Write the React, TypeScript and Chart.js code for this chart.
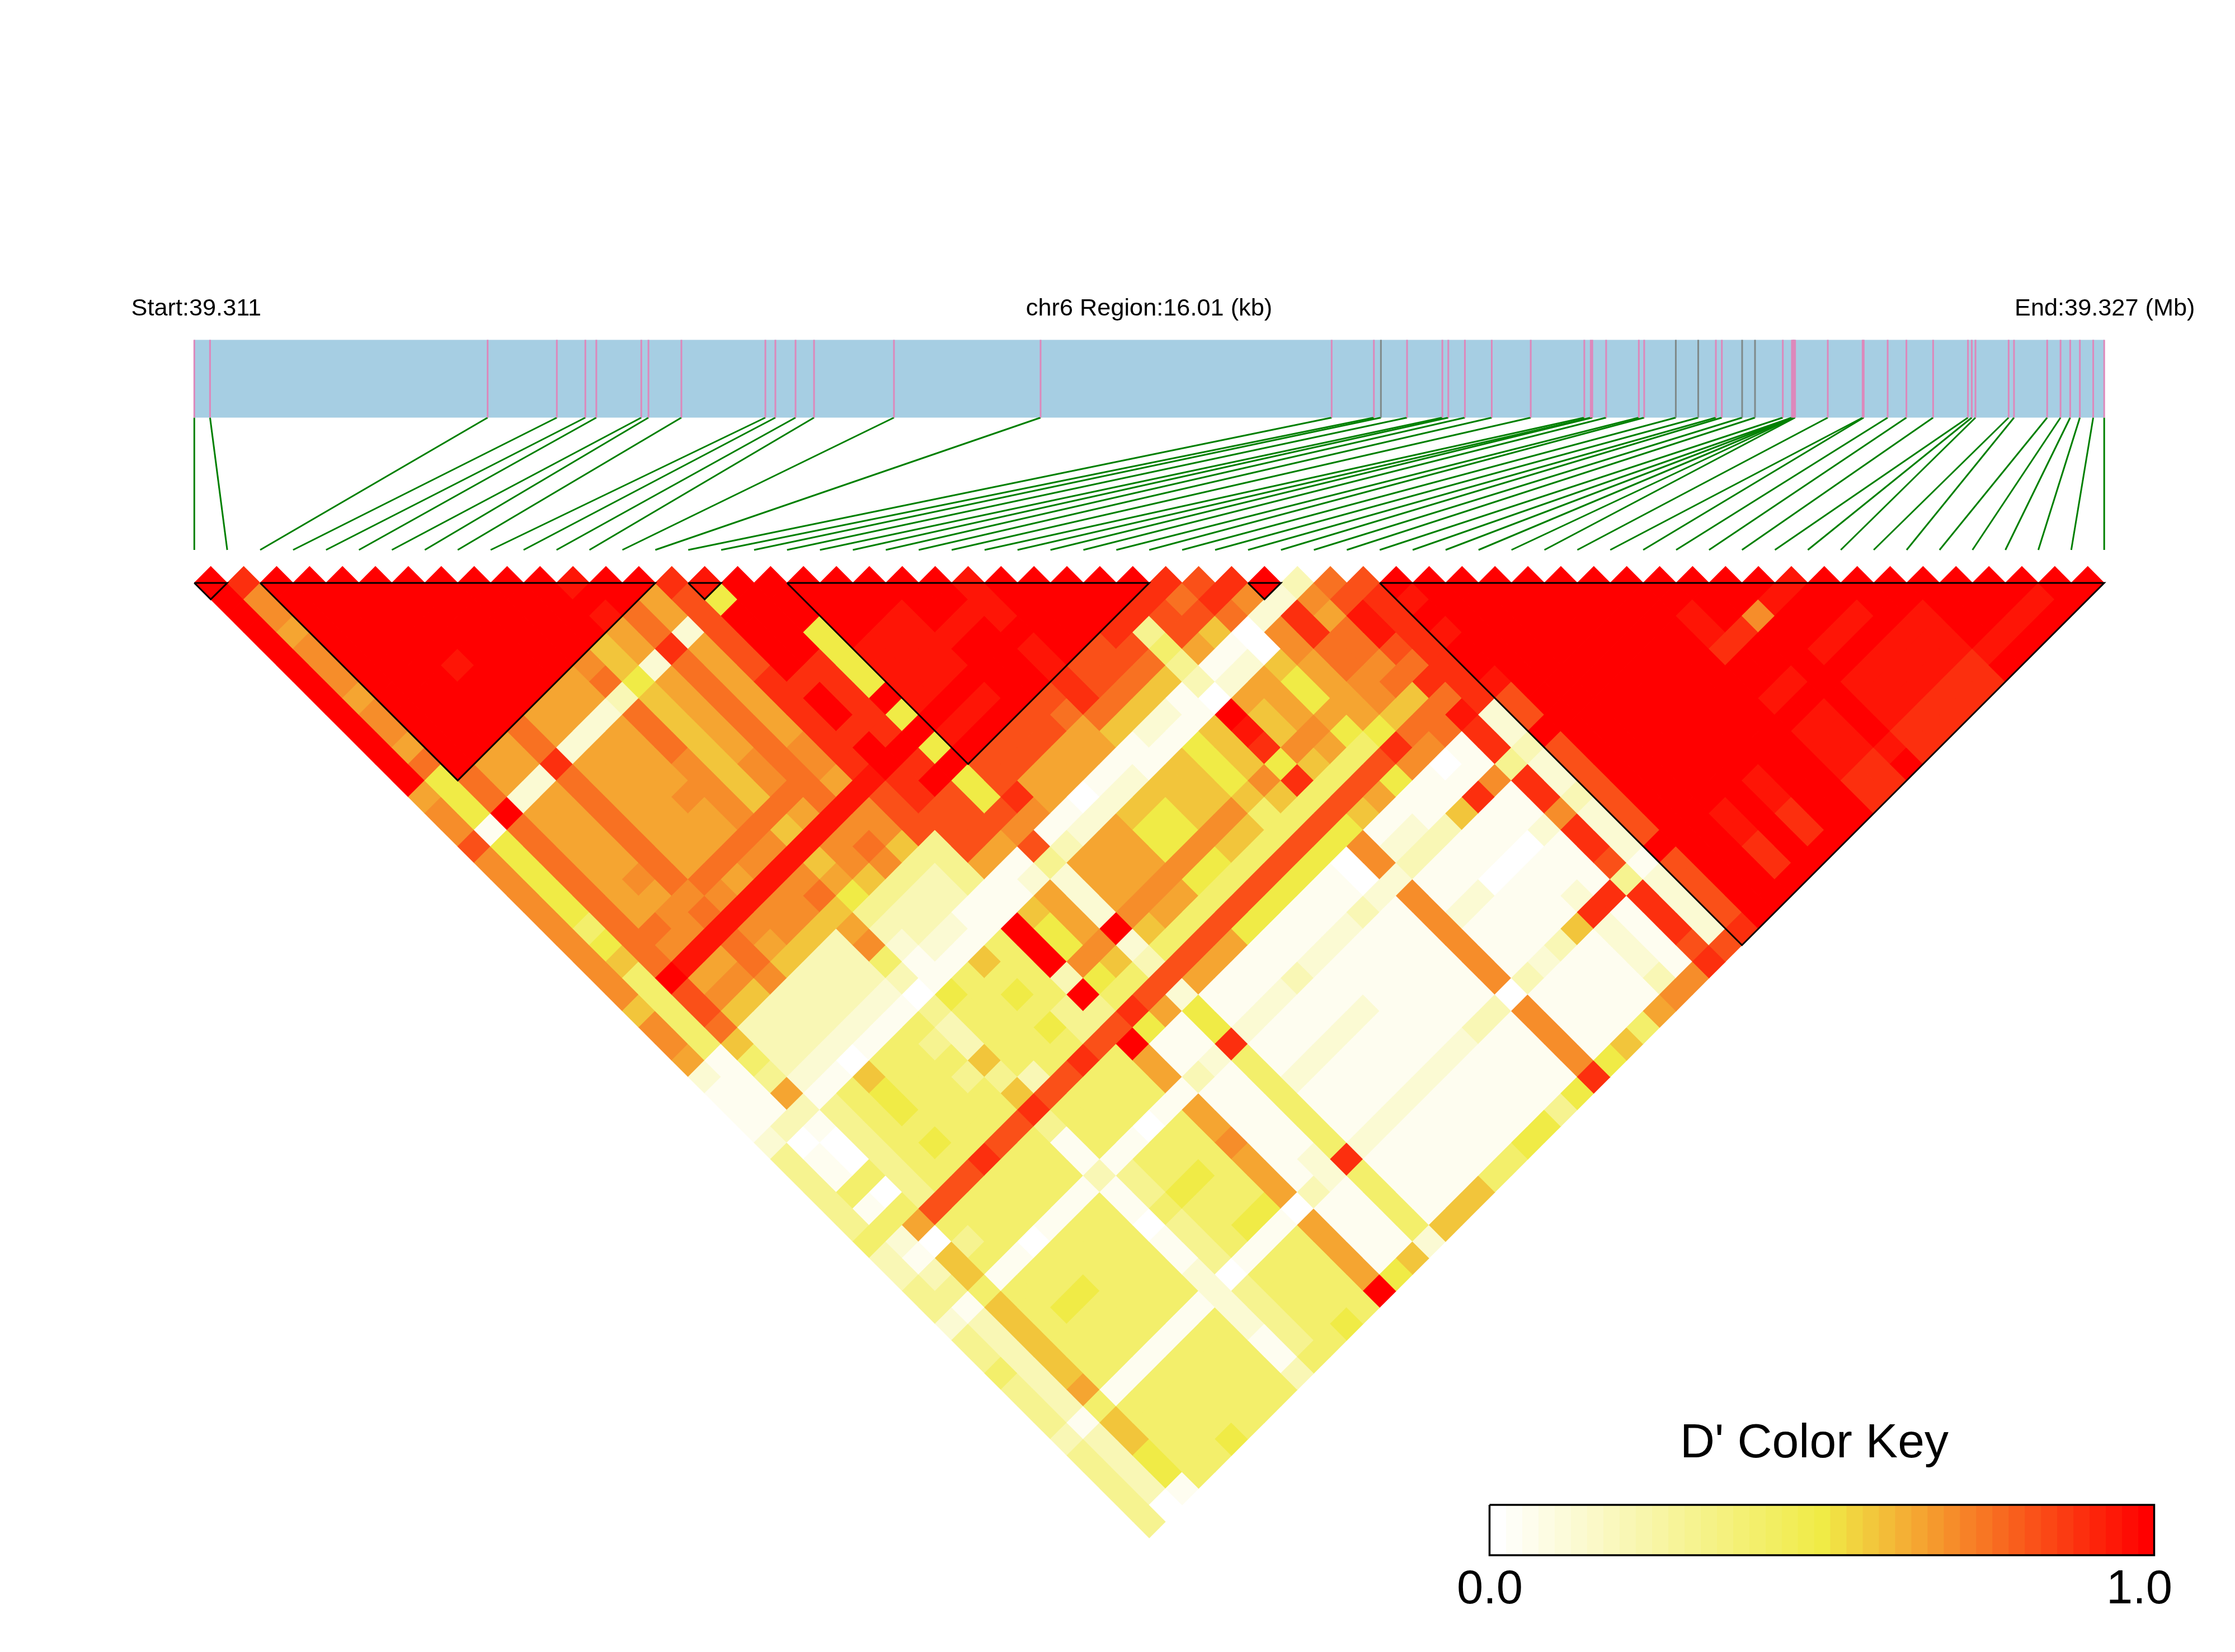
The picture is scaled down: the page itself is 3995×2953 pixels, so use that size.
import React, { useEffect, useRef } from "react";
import { Chart, registerables } from "chart.js";

Chart.register(...registerables);

// SNP positions along the region, in kb from the start
const snpPositionsKb = [
  0, 0.132, 2.459, 3.039, 3.278, 3.37, 3.747, 3.807, 4.083, 4.787, 4.871, 5.04, 5.195, 5.865, 7.094,
  9.534, 9.888, 9.947, 10.166, 10.462, 10.512, 10.651, 10.876, 11.203, 11.652, 11.706, 11.719, 11.835,
  12.109, 12.154, 12.419, 12.607, 12.755, 12.805, 12.975, 13.083, 13.316, 13.392, 13.401, 13.406, 13.41,
  13.419, 13.693, 13.985, 13.994, 14.195, 14.352, 14.576, 14.868, 14.9, 14.931, 15.209, 15.254, 15.532,
  15.644, 15.725, 15.806, 15.918, 16.01,
];
const greyMarkers = [17, 30, 31, 34, 35];
const regionKb = 16.01;

// LD blocks: first and last SNP
const ldBlocks = [[0, 1], [2, 14], [15, 16], [18, 29], [32, 33], [36, 58]];

// D' code of each character used in the rows below
const levelCodes = "0123456789abcde";
const levelValues = [0, 0.04, 0.12, 0.2, 0.3, 0.4, 0.5, 0.58, 0.65, 0.7, 0.76, 0.83, 0.9, 0.955, 1];

// row i holds the D' codes of the pairs (i, j) for j = i + 1 ... 58
const dPrimeRows = [
  "eeeeeeeee eeee899b99 9999999799 8211124444 4533442445 444344444",
  "c9989998 998a666166 6665675555 5111130115 1521341333 333133330",
  "eeeeeee eeeeeaaeaa aaaaaaaebb a754831005 0580775777 778577661",
  "eeeeee eeeee88288 88888a9d89 7333214444 44b5451555 555155555",
  "eeeee eeeee88288 8889899d89 7333215555 55b5551556 555155555",
  "eeee edeeeaacaa aaaaa9adaa 9333207665 65b5550556 555155556",
  "eee eeeee88288 88888a9d98 7333215555 55c5551555 555155555",
  "ee eeeee88288 88888a8d99 7333215555 55b5551555 555155555",
  "e eeeee88288 88988a9d99 7333215454 55b5551555 555155555",
  "eeeee9a3aa a9999a9d9a 7895304337 47c4113110 112222113",
  "eeee77677 77777a7d78 6432116555 53b5551445 444044445",
  "ded88288 88899a8d99 7433215555 55b5551556 555155555",
  "eeaacaa aaaaaaad9a 9433217565 65c5550556 556155556",
  "e88288 8888998d99 7433115555 44b5551555 556155555",
  "cbbbb bccccccdbb b44411eee3 e4be881889 88808888e",
  "d6ee eeceeceecc bbb8117669 65c6113111 111311116",
  "eee eecccccece bbb8128889 75b8112111 112211117",
  "ee e6666e6e6e 66b9b4222e 23b266c555 555c55552",
  "e eeeddddede bbc9138889 75b8112112 111211117",
  "eeeddddede bb88128889 85b8112112 111211117",
  "eeddddede bb88028889 85b8112112 111211117",
  "eeedeeee bb88127669 65b6113112 111211115",
  "eedeeee ba88127669 65b6112112 111211115",
  "dddedd cca7117779 75b6112111 111211116",
  "eeeee bba7217779 75b6112111 111211116",
  "eeee bba7216667 55b6113111 111311114",
  "eee cba7117779 75b6002111 111311116",
  "ee c45430edc6 c5b6992999 99909999c",
  "e cbb8128779 75b7123112 111311116",
  "cab7128889 85b8123112 111211117",
  "bca007668 65b6113110 111311115",
  "c9299888 86c9117110 111711118",
  "e2ccaa9 97a901c110 112c22239",
  "398aa9 a7aa119112 111c11119",
  "abddb acadcc4cc9 ccb4cccbc",
  "bccc cccc223223 22212222b",
  "ede deedbbebbb bbbebbbbc",
  "ee eeeeeeeeee eeeeeeeee",
  "e eeeeeeeeee eeeeeeeee",
  "eeeeeeeeee eeeeddcce",
  "eeeeeeeee eeeeeeeee",
  "eeeeeeee eeeeddcce",
  "eeeeeee eeeeeeeee",
  "eeeeee eeeeeeeee",
  "eeddc eededddcc",
  "eeec eededddcc",
  "ee9 eeeeeeede",
  "ed eededddcc",
  "d eededddcc",
  "eededddcc",
  "eeedddcc",
  "eedddcc",
  "eeeede",
  "eeede",
  "eede",
  "ede",
  "ee",
  "e",
];

// colour key
const keyBinCount = 41;
const keyLabels = ["0.0", "1.0"];
const keyTitle = "D' Color Key";
const headerLabels = ["Start:39.311", "chr6 Region:16.01 (kb)", "End:39.327 (Mb)"];

// layout of the picture, in canvas pixels
const W = 3995;
const H = 2953;
const X0 = 347.3;
const STEP = 58.86;
const Y0 = 1042;
const HALF = 29.43;
const xIdx = (px: number) => (px - X0) / STEP;
const yLvl = (px: number) => 1 + (px - Y0) / HALF;

function dPrimeColor(v: number) {
  const mix = (a: number[], b: number[], t: number) =>
    `rgb(${a.map((c, k) => Math.round(c + (b[k] - c) * t)).join(",")})`;
  const white = [255, 255, 255];
  const yellow = [240, 235, 70];
  const red = [255, 0, 0];
  return v <= 0.5 ? mix(white, yellow, v / 0.5) : mix(yellow, red, (v - 0.5) / 0.5);
}

const textPlugin = {
  id: "ldText",
  afterDatasetsDraw(chart: any) {
    const { ctx } = chart;
    ctx.save();
    ctx.fillStyle = "#000";
    ctx.textBaseline = "alphabetic";
    ctx.font = '43.3px "Liberation Sans"';
    ctx.textAlign = "left";
    ctx.fillText(headerLabels[0], 234.5, 564);
    ctx.textAlign = "center";
    ctx.fillText(headerLabels[1], 2054, 564);
    ctx.textAlign = "left";
    ctx.fillText(headerLabels[2], 3601, 564);
    ctx.textAlign = "center";
    ctx.font = '86px "Liberation Sans"';
    ctx.fillText(keyTitle, 3243, 2605);
    ctx.font = '85px "Liberation Sans"';
    ctx.fillText(keyLabels[0], 2663, 2866);
    ctx.fillText(keyLabels[1], 3824, 2866);
    ctx.restore();
  },
};

function line(points: { x: number; y: number }[], color: string, width: number, order: number) {
  return {
    type: "scatter",
    data: points,
    showLine: true,
    borderColor: color,
    backgroundColor: color,
    borderWidth: width,
    borderCapStyle: "butt",
    pointRadius: 0,
    tension: 0,
    order,
    clip: false,
  };
}

export default function App() {
  const ref = useRef<HTMLCanvasElement | null>(null);

  useEffect(() => {
    document.body.style.margin = "0";
    const canvas = ref.current;
    if (!canvas) return;

    const datasets: any[] = [];

    // gene bar
    const barTop = yLvl(607.5);
    const barBottom = yLvl(746.5);
    const lineBottom = yLvl(983);
    datasets.push(
      line(
        [
          { x: 0, y: (barTop + barBottom) / 2 },
          { x: 58, y: (barTop + barBottom) / 2 },
        ],
        "#A6CEE3",
        139,
        20,
      ),
    );

    // SNP ticks on the bar and connectors to the heatmap
    snpPositionsKb.forEach((kb, i) => {
      const x = (kb / regionKb) * 58;
      datasets.push(
        line(
          [
            { x, y: barTop },
            { x, y: barBottom },
          ],
          greyMarkers.includes(i) ? "#7F8A8A" : "#DD88BB",
          3,
          15,
        ),
      );
      datasets.push(
        line(
          [
            { x, y: barBottom },
            { x: i, y: lineBottom },
          ],
          "#008000",
          3,
          15,
        ),
      );
    });

    // heatmap cells
    const cells: { x: number; y: number }[] = [];
    const colors: string[] = [];
    dPrimeRows.forEach((raw, i) => {
      const row = raw.replace(/ /g, "");
      for (let j = i + 1; j <= 58; j++) {
        const code = row[j - i - 1] ?? "e";
        cells.push({ x: (i + j) / 2, y: j - i });
        colors.push(dPrimeColor(levelValues[levelCodes.indexOf(code)]));
      }
    });
    datasets.push({
      type: "scatter",
      data: cells,
      pointStyle: "rectRot",
      pointRadius: HALF + 0.7,
      pointBorderWidth: 0,
      borderWidth: 0,
      pointBackgroundColor: colors,
      backgroundColor: colors,
      showLine: false,
      order: 10,
      clip: false,
    });

    // LD block outlines
    ldBlocks.forEach(([a, b]) => {
      datasets.push(
        line(
          [
            { x: a, y: 1 },
            { x: b, y: 1 },
            { x: (a + b) / 2, y: b - a + 1 },
            { x: a, y: 1 },
          ],
          "#000",
          3,
          1,
        ),
      );
    });

    // colour key
    const keyL = xIdx(2662.5);
    const keyR = xIdx(3850.5);
    const keyT = yLvl(2690);
    const keyB = yLvl(2780);
    const keyMid = (keyT + keyB) / 2;
    for (let k = 0; k < keyBinCount; k++) {
      const a = keyL + ((keyR - keyL) * k) / keyBinCount;
      const b = keyL + ((keyR - keyL) * (k + 1)) / keyBinCount;
      datasets.push(
        line(
          [
            { x: a, y: keyMid },
            { x: b + 0.01, y: keyMid },
          ],
          dPrimeColor(k / (keyBinCount - 1)),
          90,
          5,
        ),
      );
    }
    datasets.push(
      line(
        [
          { x: keyL, y: keyT },
          { x: keyR, y: keyT },
          { x: keyR, y: keyB },
          { x: keyL, y: keyB },
          { x: keyL, y: keyT },
        ],
        "#000",
        3.5,
        1,
      ),
    );

    const chart = new Chart(canvas, {
      type: "scatter",
      data: { datasets },
      plugins: [textPlugin],
      options: {
        responsive: false,
        animation: false,
        devicePixelRatio: 1,
        events: [],
        layout: { padding: 0, autoPadding: false },
        plugins: { legend: { display: false }, tooltip: { enabled: false }, title: { display: false } },
        scales: {
          x: { type: "linear", display: false, min: xIdx(0), max: xIdx(W) },
          y: { type: "linear", display: false, reverse: true, min: yLvl(0), max: yLvl(H) },
        },
      },
    } as any);
    return () => chart.destroy();
  }, []);

  return <canvas ref={ref} width={W} height={H} style={{ display: "block", width: W, height: H }} />;
}
